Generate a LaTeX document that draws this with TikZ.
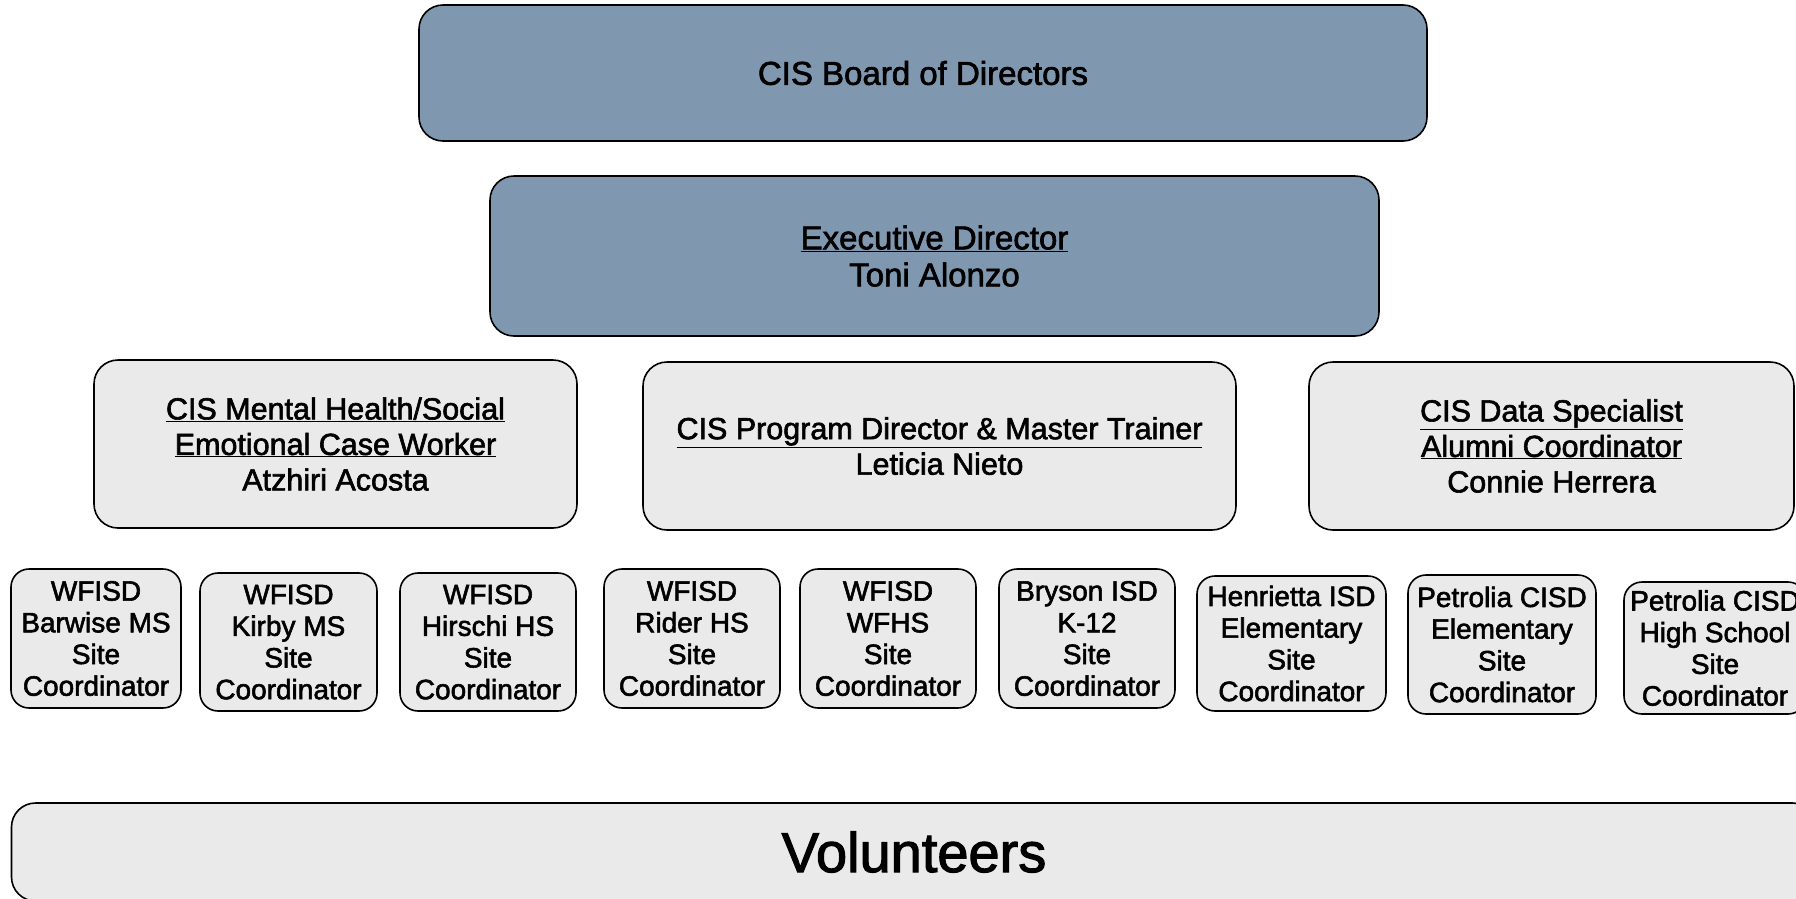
\documentclass[tikz,border=0pt]{standalone}
\usepackage{fontspec}
\setmainfont[FakeBold=2]{Liberation Sans}
\definecolor{slate}{RGB}{127,151,175}
\definecolor{paper}{RGB}{234,234,234}
\tikzset{
  orgbox/.style={draw=black, line width=1.6pt, align=center, inner sep=0pt, text=black},
  topbox/.style={orgbox, fill=slate, rounded corners=24pt, font=\fontsize{33}{37}\selectfont},
  midbox/.style={orgbox, fill=paper, rounded corners=24pt, minimum width=#1, minimum height=168pt,
                 font=\fontsize{30.5}{35.5}\selectfont},
  sitebox/.style={orgbox, fill=paper, rounded corners=18pt, minimum width=#1,
                  font=\fontsize{28}{31.7}\selectfont},
}
\begin{document}
\begin{tikzpicture}[x=1pt, y=-1pt]
  \clip (0,0) rectangle (1796,898);
  \fill[white] (0,0) rectangle (1796,898);

  % leadership
  \node[topbox, minimum width=1008pt, minimum height=136pt] (board) at (923,73)
    {CIS Board of Directors};
  \node[topbox, minimum width=889pt, minimum height=160pt] (exec) at (934.5,256)
    {\underline{Executive Director}\\Toni Alonzo};

  % program staff
  \node[midbox=483pt] (mental) at (335.5,444)
    {\underline{CIS Mental Health/Social}\\\underline{Emotional Case Worker}\\Atzhiri Acosta};
  \node[midbox=593pt] (program) at (939.5,446)
    {\underline{CIS Program Director \& Master Trainer}\\Leticia Nieto};
  \node[midbox=485pt] (data) at (1551.5,446)
    {\underline{CIS Data Specialist}\\\underline{Alumni Coordinator}\\Connie Herrera};

  % campus site coordinators
  \node[sitebox=170pt, minimum height=139pt] (barwise) at (96,638.5)
    {WFISD\\Barwise MS\\Site\\Coordinator};
  \node[sitebox=177pt, minimum height=138pt] (kirby) at (288.5,642)
    {WFISD\\Kirby MS\\Site\\Coordinator};
  \node[sitebox=176pt, minimum height=138pt] (hirschi) at (488,642)
    {WFISD\\Hirschi HS\\Site\\Coordinator};
  \node[sitebox=176pt, minimum height=139pt] (rider) at (692,638.5)
    {WFISD\\Rider HS\\Site\\Coordinator};
  \node[sitebox=176pt, minimum height=139pt] (wfhs) at (888,638.5)
    {WFISD\\WFHS\\Site\\Coordinator};
  \node[sitebox=176pt, minimum height=139pt] (bryson) at (1087,638.5)
    {Bryson ISD\\K-12\\Site\\Coordinator};
  \node[sitebox=189pt, minimum height=135pt] (henrietta) at (1291.5,643.5)
    {Henrietta ISD\\Elementary\\Site\\Coordinator};
  \node[sitebox=188pt, minimum height=139pt] (petrolia) at (1502,644.5)
    {Petrolia CISD\\Elementary\\Site\\Coordinator};
  \node[sitebox=182pt, minimum height=132pt] (petroliahs) at (1715,648)
    {Petrolia CISD\\High School\\Site\\Coordinator};

  % volunteers
  \node[orgbox, fill=paper, rounded corners=24pt, minimum width=1805pt, minimum height=98pt,
        font=\fontsize{56}{60}\selectfont] (volunteers) at (914,852) {Volunteers};
\end{tikzpicture}
\end{document}
